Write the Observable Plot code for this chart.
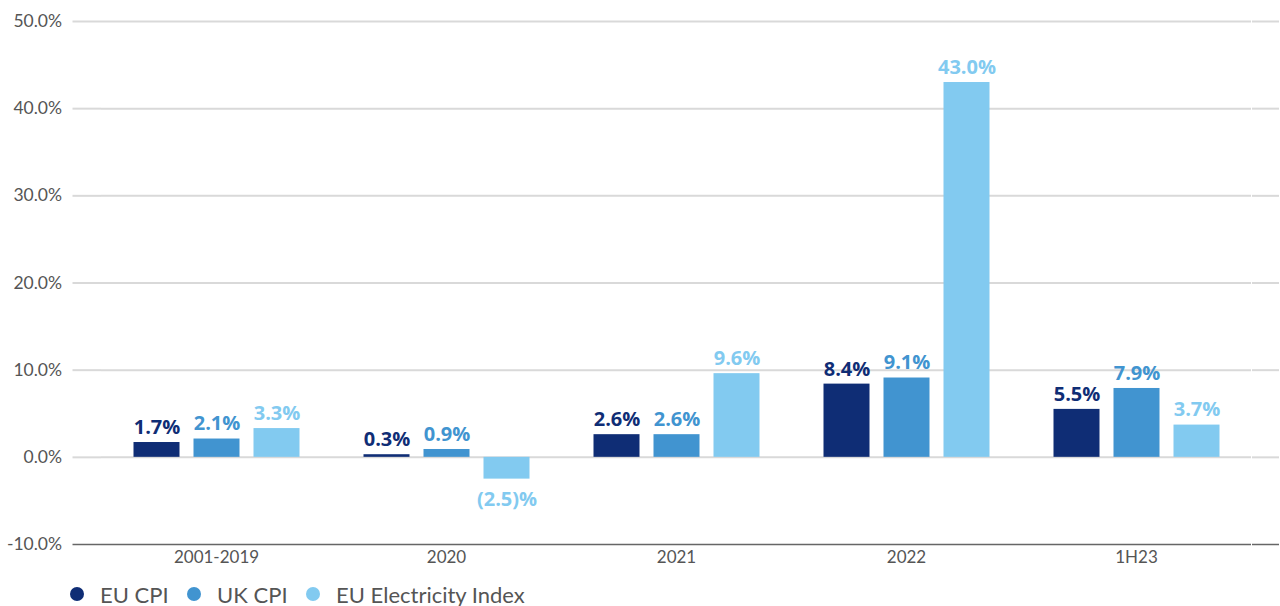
<!DOCTYPE html>
<html><head><meta charset="utf-8">
<script src="https://cdn.jsdelivr.net/npm/d3@7"></script>
<script src="https://cdn.jsdelivr.net/npm/@observablehq/plot@0.6"></script>
<style>
body{margin:0;background:#fff;font-family:Lato,sans-serif;overflow:hidden;}
#legend{display:flex;align-items:center;height:24px;padding-top:7px;padding-left:69.5px;font-size:22px;color:#555;}
#legend .item{display:flex;align-items:center;margin-right:18px;}
#legend .dot{width:14.5px;height:14.5px;border-radius:50%;margin-right:16px;}
</style></head>
<body><div id="chart"></div><div id="legend"></div>
<script>
const periods = ["2001-2019","2020","2021","2022","1H23"];
const seriesNames = ["EU CPI","UK CPI","EU Electricity Index"];
const colors = ["#0f2d75","#4194d0","#82caf0"];
const euCPI = [1.7,0.3,2.6,8.4,5.5];
const ukCPI = [2.1,0.9,2.6,9.1,7.9];
const euElec = [3.3,-2.5,9.6,43.0,3.7];
const yTicks = [-10,0,10,20,30,40,50];

const allSeries = [euCPI, ukCPI, euElec];
const data = [];
periods.forEach((p,i)=>allSeries.forEach((s,j)=>data.push({period:p, series:seriesNames[j], value:s[i]})));
const fmt = v => v < 0 ? `(${Math.abs(v).toFixed(1)})%` : `${v.toFixed(1)}%`;
const gridTicks = yTicks.filter(d=>d>-10);
const baseTick = [-10];
const tf = d=>d.toFixed(1)+"%";

const chart = Plot.plot({
  width:1280, height:575,
  marginLeft:98.5, marginRight:27, marginTop:21, marginBottom:31,
  style:{fontFamily:"Lato, sans-serif", fontSize:"17px", color:"#555", background:"#fff"},
  fx:{domain:periods, paddingInner:0, paddingOuter:0, label:null, axis:null},
  x:{domain:seriesNames, paddingInner:0.24, paddingOuter:0.529, axis:null},
  y:{domain:[-10,50], label:null, axis:null},
  color:{domain:seriesNames, range:colors},
  marks:[
    Plot.ruleY(gridTicks, {stroke:"#d9d9d9", strokeWidth:2}),
    Plot.ruleY(baseTick, {stroke:"#666", strokeWidth:1.5}),
    Plot.axisY({anchor:"left", ticks:gridTicks, tickSize:28.5, tickPadding:11, stroke:"#d9d9d9", strokeWidth:2, fill:"#555", tickFormat:tf, fontSize:17.5, label:null}),
    Plot.axisY({anchor:"left", ticks:baseTick, tickSize:28.5, tickPadding:11, stroke:"#666", strokeWidth:1.5, fill:"#555", tickFormat:tf, fontSize:17.5, label:null}),
    Plot.axisY({anchor:"right", ticks:gridTicks, tickSize:27, stroke:"#d9d9d9", strokeWidth:2, tickFormat:()=>"", label:null}),
    Plot.axisY({anchor:"right", ticks:baseTick, tickSize:27, stroke:"#666", strokeWidth:1.5, tickFormat:()=>"", label:null}),
    Plot.axisFx({anchor:"bottom", tickSize:0, tickPadding:6, fill:"#555", fontSize:17, label:null}),
    Plot.barY(data, {fx:"period", x:"series", y:"value", fill:"series"}),
    Plot.text(data.filter(d=>d.value>=0), {fx:"period", x:"series", y:"value", text:d=>fmt(d.value), fill:"series", dy:-15, fontSize:20, fontWeight:"bold", fontFamily:"'Open Sans', sans-serif"}),
    Plot.text(data.filter(d=>d.value<0), {fx:"period", x:"series", y:"value", text:d=>fmt(d.value), fill:"series", dy:20, fontSize:20, fontWeight:"bold", fontFamily:"'Open Sans', sans-serif"})
  ]
});
document.getElementById("chart").appendChild(chart);
const lg = document.getElementById("legend");
seriesNames.forEach((n,i)=>{
  const it=document.createElement("div");it.className="item";
  it.innerHTML=`<span class="dot" style="background:${colors[i]}"></span><span>${n}</span>`;
  lg.appendChild(it);
});
</script></body></html>
